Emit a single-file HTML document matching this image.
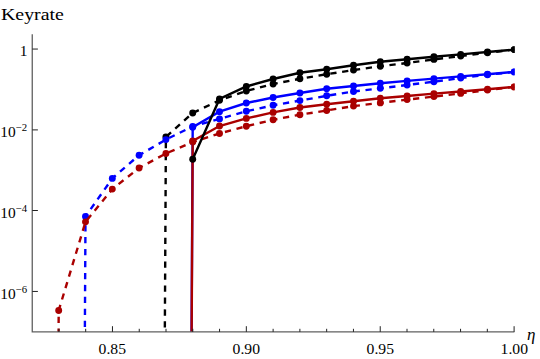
<!DOCTYPE html>
<html><head><meta charset="utf-8"><title>Keyrate</title>
<style>
html,body{margin:0;padding:0;background:#fff;}
body{width:540px;height:359px;overflow:hidden;font-family:"Liberation Serif",serif;}
svg{display:block;}
text{font-family:"Liberation Serif",serif;fill:#000;}
</style></head><body>
<svg width="540" height="359" viewBox="0 0 540 359">
<rect width="540" height="359" fill="#fff"/>
<defs><clipPath id="c"><rect x="32" y="30" width="482.6" height="302"/></clipPath></defs>
<g clip-path="url(#c)">
<path d="M164.83 332.00 L165.90 137.00 L192.70 113.00 L219.50 100.30 L246.30 91.00 L273.10 84.00 L299.90 78.80 L326.70 74.20 L353.50 70.10 L380.30 66.20 L407.10 63.00 L433.90 59.40 L460.70 56.10 L487.50 52.80 L514.30 49.60" fill="none" stroke="#000" stroke-width="2.4" stroke-linejoin="miter" stroke-dasharray="6.27 5.68" stroke-dashoffset="7.55"/>
<circle cx="165.90" cy="137.00" r="3.45" fill="#000"/><circle cx="192.70" cy="113.00" r="3.45" fill="#000"/><circle cx="219.50" cy="100.30" r="3.45" fill="#000"/><circle cx="246.30" cy="91.00" r="3.45" fill="#000"/><circle cx="273.10" cy="84.00" r="3.45" fill="#000"/><circle cx="299.90" cy="78.80" r="3.45" fill="#000"/><circle cx="326.70" cy="74.20" r="3.45" fill="#000"/><circle cx="353.50" cy="70.10" r="3.45" fill="#000"/><circle cx="380.30" cy="66.20" r="3.45" fill="#000"/><circle cx="407.10" cy="63.00" r="3.45" fill="#000"/><circle cx="433.90" cy="59.40" r="3.45" fill="#000"/><circle cx="460.70" cy="56.10" r="3.45" fill="#000"/><circle cx="487.50" cy="52.80" r="3.45" fill="#000"/><circle cx="514.30" cy="49.60" r="3.45" fill="#000"/>
<path d="M84.86 332.00 L85.50 216.50 L112.30 178.40 L139.10 155.20 L165.90 139.60 L192.70 126.40 L219.50 118.90 L246.30 111.30 L273.10 105.30 L299.90 100.60 L326.70 95.80 L353.50 91.50 L380.30 88.30 L407.10 85.00 L433.90 81.70 L460.70 78.00 L487.50 74.80 L514.30 71.90" fill="none" stroke="#0000ff" stroke-width="2.4" stroke-linejoin="miter" stroke-dasharray="6.27 5.68" stroke-dashoffset="6.94"/>
<circle cx="85.50" cy="216.50" r="3.45" fill="#0000ff"/><circle cx="112.30" cy="178.40" r="3.45" fill="#0000ff"/><circle cx="139.10" cy="155.20" r="3.45" fill="#0000ff"/><circle cx="165.90" cy="139.60" r="3.45" fill="#0000ff"/><circle cx="192.70" cy="126.40" r="3.45" fill="#0000ff"/><circle cx="219.50" cy="118.90" r="3.45" fill="#0000ff"/><circle cx="246.30" cy="111.30" r="3.45" fill="#0000ff"/><circle cx="273.10" cy="105.30" r="3.45" fill="#0000ff"/><circle cx="299.90" cy="100.60" r="3.45" fill="#0000ff"/><circle cx="326.70" cy="95.80" r="3.45" fill="#0000ff"/><circle cx="353.50" cy="91.50" r="3.45" fill="#0000ff"/><circle cx="380.30" cy="88.30" r="3.45" fill="#0000ff"/><circle cx="407.10" cy="85.00" r="3.45" fill="#0000ff"/><circle cx="433.90" cy="81.70" r="3.45" fill="#0000ff"/><circle cx="460.70" cy="78.00" r="3.45" fill="#0000ff"/><circle cx="487.50" cy="74.80" r="3.45" fill="#0000ff"/><circle cx="514.30" cy="71.90" r="3.45" fill="#0000ff"/>
<path d="M58.58 332.00 L58.70 310.50 L85.50 221.85 L112.30 189.10 L139.10 168.00 L165.90 153.50 L192.70 142.00 L219.50 133.50 L246.30 126.20 L273.10 119.80 L299.90 114.70 L326.70 110.50 L353.50 106.10 L380.30 102.90 L407.10 99.60 L433.90 96.60 L460.70 93.40 L487.50 90.10 L514.30 86.90" fill="none" stroke="#aa0000" stroke-width="2.4" stroke-linejoin="miter" stroke-dasharray="6.27 5.68" stroke-dashoffset="2.87"/>
<circle cx="58.70" cy="310.50" r="3.45" fill="#aa0000"/><circle cx="85.50" cy="221.85" r="3.45" fill="#aa0000"/><circle cx="112.30" cy="189.10" r="3.45" fill="#aa0000"/><circle cx="139.10" cy="168.00" r="3.45" fill="#aa0000"/><circle cx="165.90" cy="153.50" r="3.45" fill="#aa0000"/><circle cx="192.70" cy="142.00" r="3.45" fill="#aa0000"/><circle cx="219.50" cy="133.50" r="3.45" fill="#aa0000"/><circle cx="246.30" cy="126.20" r="3.45" fill="#aa0000"/><circle cx="273.10" cy="119.80" r="3.45" fill="#aa0000"/><circle cx="299.90" cy="114.70" r="3.45" fill="#aa0000"/><circle cx="326.70" cy="110.50" r="3.45" fill="#aa0000"/><circle cx="353.50" cy="106.10" r="3.45" fill="#aa0000"/><circle cx="380.30" cy="102.90" r="3.45" fill="#aa0000"/><circle cx="407.10" cy="99.60" r="3.45" fill="#aa0000"/><circle cx="433.90" cy="96.60" r="3.45" fill="#aa0000"/><circle cx="460.70" cy="93.40" r="3.45" fill="#aa0000"/><circle cx="487.50" cy="90.10" r="3.45" fill="#aa0000"/><circle cx="514.30" cy="86.90" r="3.45" fill="#aa0000"/>
<path d="M191.57 332.00 L192.70 127.20 L219.50 111.70 L246.30 103.00 L273.10 97.50 L299.90 93.00 L326.70 88.80 L353.50 86.00 L380.30 83.20 L407.10 80.90 L433.90 78.60 L460.70 76.40 L487.50 74.20 L514.30 71.90" fill="none" stroke="#0000ff" stroke-width="2.4" stroke-linejoin="miter"/>
<circle cx="192.70" cy="127.20" r="3.45" fill="#0000ff"/><circle cx="219.50" cy="111.70" r="3.45" fill="#0000ff"/><circle cx="246.30" cy="103.00" r="3.45" fill="#0000ff"/><circle cx="273.10" cy="97.50" r="3.45" fill="#0000ff"/><circle cx="299.90" cy="93.00" r="3.45" fill="#0000ff"/><circle cx="326.70" cy="88.80" r="3.45" fill="#0000ff"/><circle cx="353.50" cy="86.00" r="3.45" fill="#0000ff"/><circle cx="380.30" cy="83.20" r="3.45" fill="#0000ff"/><circle cx="407.10" cy="80.90" r="3.45" fill="#0000ff"/><circle cx="433.90" cy="78.60" r="3.45" fill="#0000ff"/><circle cx="460.70" cy="76.40" r="3.45" fill="#0000ff"/><circle cx="487.50" cy="74.20" r="3.45" fill="#0000ff"/><circle cx="514.30" cy="71.90" r="3.45" fill="#0000ff"/>
<path d="M191.65 332.00 L192.70 141.00 L219.50 126.00 L246.30 118.40 L273.10 112.40 L299.90 107.50 L326.70 104.30 L353.50 101.30 L380.30 98.30 L407.10 96.00 L433.90 93.60 L460.70 91.50 L487.50 89.30 L514.30 86.90" fill="none" stroke="#aa0000" stroke-width="2.4" stroke-linejoin="miter"/>
<circle cx="192.70" cy="141.00" r="3.45" fill="#aa0000"/><circle cx="219.50" cy="126.00" r="3.45" fill="#aa0000"/><circle cx="246.30" cy="118.40" r="3.45" fill="#aa0000"/><circle cx="273.10" cy="112.40" r="3.45" fill="#aa0000"/><circle cx="299.90" cy="107.50" r="3.45" fill="#aa0000"/><circle cx="326.70" cy="104.30" r="3.45" fill="#aa0000"/><circle cx="353.50" cy="101.30" r="3.45" fill="#aa0000"/><circle cx="380.30" cy="98.30" r="3.45" fill="#aa0000"/><circle cx="407.10" cy="96.00" r="3.45" fill="#aa0000"/><circle cx="433.90" cy="93.60" r="3.45" fill="#aa0000"/><circle cx="460.70" cy="91.50" r="3.45" fill="#aa0000"/><circle cx="487.50" cy="89.30" r="3.45" fill="#aa0000"/><circle cx="514.30" cy="86.90" r="3.45" fill="#aa0000"/>
<path d="M192.70 159.30 L219.50 99.00 L246.30 86.50 L273.10 79.00 L299.90 72.80 L326.70 69.20 L353.50 65.20 L380.30 61.80 L407.10 59.20 L433.90 56.80 L460.70 54.40 L487.50 52.00 L514.30 49.60" fill="none" stroke="#000" stroke-width="2.4" stroke-linejoin="miter"/>
<circle cx="192.70" cy="159.30" r="3.45" fill="#000"/><circle cx="219.50" cy="99.00" r="3.45" fill="#000"/><circle cx="246.30" cy="86.50" r="3.45" fill="#000"/><circle cx="273.10" cy="79.00" r="3.45" fill="#000"/><circle cx="299.90" cy="72.80" r="3.45" fill="#000"/><circle cx="326.70" cy="69.20" r="3.45" fill="#000"/><circle cx="353.50" cy="65.20" r="3.45" fill="#000"/><circle cx="380.30" cy="61.80" r="3.45" fill="#000"/><circle cx="407.10" cy="59.20" r="3.45" fill="#000"/><circle cx="433.90" cy="56.80" r="3.45" fill="#000"/><circle cx="460.70" cy="54.40" r="3.45" fill="#000"/><circle cx="487.50" cy="52.00" r="3.45" fill="#000"/><circle cx="514.30" cy="49.60" r="3.45" fill="#000"/>
</g>
<path d="M32.25 34.2 V331.9 H514.4" fill="none" stroke="#606060" stroke-width="1.3" stroke-linejoin="miter"/>
<path d="M58.91 331.9V328.80M85.68 331.9V328.80M112.46 331.9V326.20M139.24 331.9V328.80M166.01 331.9V328.80M192.79 331.9V328.80M219.56 331.9V328.80M246.34 331.9V326.20M273.12 331.9V328.80M299.89 331.9V328.80M326.67 331.9V328.80M353.44 331.9V328.80M380.22 331.9V326.20M407.00 331.9V328.80M433.77 331.9V328.80M460.55 331.9V328.80M487.32 331.9V328.80M514.10 331.9V326.20M32.25 49.05H37.9M32.25 129.9H37.9M32.25 210.5H37.9M32.25 291.45H37.9" fill="none" stroke="#222" stroke-width="1"/>
<g><text x="1" y="19.9" font-size="17.3" textLength="62.8" lengthAdjust="spacingAndGlyphs">Keyrate</text><text x="98.6" y="353.8" font-size="15.4" textLength="27.4" lengthAdjust="spacingAndGlyphs">0.85</text><text x="232.6" y="353.8" font-size="15.4" textLength="27.4" lengthAdjust="spacingAndGlyphs">0.90</text><text x="366.6" y="353.8" font-size="15.4" textLength="27.4" lengthAdjust="spacingAndGlyphs">0.95</text><text x="500.6" y="353.8" font-size="15.4" textLength="27.4" lengthAdjust="spacingAndGlyphs">1.00</text><text x="19.7" y="55.7" font-size="15.4" textLength="7.7" lengthAdjust="spacingAndGlyphs">1</text><text x="0.2" y="136.7" font-size="15.4">10<tspan dy="-6" font-size="10.8">−2</tspan></text><text x="0.2" y="217.7" font-size="15.4">10<tspan dy="-6" font-size="10.8">−4</tspan></text><text x="0.2" y="298.7" font-size="15.4">10<tspan dy="-6" font-size="10.8">−6</tspan></text><text x="527" y="340.4" font-size="17" font-style="italic">η</text></g>
</svg>
</body></html>
